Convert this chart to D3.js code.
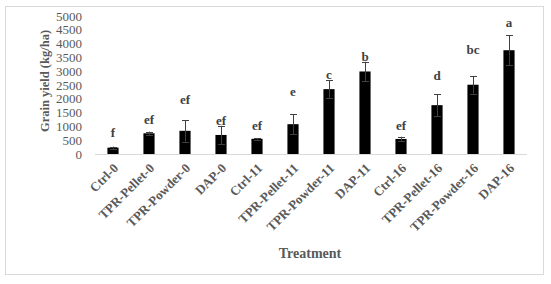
<!DOCTYPE html>
<html>
<head>
<meta charset="utf-8">
<script src="https://cdn.jsdelivr.net/npm/d3@7"></script>
<style>
  body { margin: 0; background: #fff; }
  svg text { font-family: "Liberation Serif", "Times New Roman", serif; }
</style>
</head>
<body>
<div id="chart"></div>
<script>
// data
var treatments = ["Ctrl-0", "TPR-Pellet-0", "TPR-Powder-0", "DAP-0",
  "Ctrl-11", "TPR-Pellet-11", "TPR-Powder-11", "DAP-11",
  "Ctrl-16", "TPR-Pellet-16", "TPR-Powder-16", "DAP-16"];
var yieldMeans = [230, 750, 840, 690, 550, 1080, 2350, 2990, 545, 1770, 2510, 3760];
var yieldErrors = [40, 60, 390, 330, 30, 360, 330, 350, 80, 400, 320, 540];
var letters = ["f", "ef", "ef", "ef", "ef", "e", "c", "b", "ef", "d", "bc", "a"];
var yTicks = [0, 500, 1000, 1500, 2000, 2500, 3000, 3500, 4000, 4500, 5000];

// gap in px between error bar top and letter baseline (as placed in the original)
var letterGap = [9, 7, 15, 0, 7, 17, 0, 0, 6, 13, 21, 7];

var svgWidth = 551;
var svgHeight = 284;

var margin = { top: 16, right: 24, bottom: 130, left: 95 };
var width = 527 - margin.left;
var height = 154 - margin.top;

var svg = d3.select("#chart")
  .append("svg")
  .attr("width", svgWidth)
  .attr("height", svgHeight);

// outer frame
svg.append("rect")
  .attr("x", 5.5)
  .attr("y", 6.5)
  .attr("width", 538)
  .attr("height", 268)
  .attr("fill", "#fff")
  .attr("stroke", "#d9d9d9")
  .attr("stroke-width", 1);

var chartGroup = svg.append("g")
  .attr("transform", `translate(${margin.left}, ${margin.top})`);

var xScale = d3.scaleBand()
  .domain(treatments)
  .range([0, width])
  .paddingInner(0.69)
  .paddingOuter(0.345);

var yScale = d3.scaleLinear()
  .domain([0, 5000])
  .range([height, 0]);

// y axis (labels only)
var leftAxis = d3.axisLeft(yScale)
  .tickValues(yTicks)
  .tickFormat(d3.format("d"))
  .tickSize(0)
  .tickPadding(13);

var yAxis = chartGroup.append("g")
  .call(leftAxis);
yAxis.select(".domain").remove();
yAxis.selectAll("text")
  .attr("font-size", "13px")
  .attr("fill", "#595959")
  .style("font-family", "'Liberation Serif', 'Times New Roman', serif");

// bars
chartGroup.selectAll(".bar")
  .data(treatments)
  .enter()
  .append("rect")
  .attr("class", "bar")
  .attr("x", d => xScale(d))
  .attr("y", (d, i) => yScale(yieldMeans[i]))
  .attr("width", xScale.bandwidth())
  .attr("height", (d, i) => height - yScale(yieldMeans[i]))
  .attr("fill", "#000");

// baseline
chartGroup.append("line")
  .attr("x1", 0)
  .attr("x2", width)
  .attr("y1", height + 0.5)
  .attr("y2", height + 0.5)
  .attr("stroke", "#d9d9d9")
  .attr("stroke-width", 1);

// error bars
var errGroup = chartGroup.selectAll(".err")
  .data(treatments)
  .enter()
  .append("g")
  .attr("class", "err")
  .attr("stroke", "#404040")
  .attr("stroke-width", 1);

errGroup.append("line")
  .attr("x1", d => Math.round(xScale(d) + xScale.bandwidth() / 2) + 0.5)
  .attr("x2", d => Math.round(xScale(d) + xScale.bandwidth() / 2) + 0.5)
  .attr("y1", (d, i) => yScale(yieldMeans[i] - yieldErrors[i]))
  .attr("y2", (d, i) => yScale(yieldMeans[i] + yieldErrors[i]));

[-1, 1].forEach(function(s) {
  errGroup.append("line")
    .attr("x1", d => Math.round(xScale(d) + xScale.bandwidth() / 2) - 3)
    .attr("x2", d => Math.round(xScale(d) + xScale.bandwidth() / 2) + 4)
    .attr("y1", (d, i) => Math.round(yScale(yieldMeans[i] + s * yieldErrors[i])) + 0.5)
    .attr("y2", (d, i) => Math.round(yScale(yieldMeans[i] + s * yieldErrors[i])) + 0.5);
});

// significance letters
chartGroup.selectAll(".letter")
  .data(treatments)
  .enter()
  .append("text")
  .attr("class", "letter")
  .attr("x", d => xScale(d) + xScale.bandwidth() / 2)
  .attr("y", (d, i) => yScale(yieldMeans[i] + yieldErrors[i]) - letterGap[i] - 1)
  .attr("text-anchor", "middle")
  .attr("font-size", "13px")
  .attr("font-weight", "bold")
  .attr("fill", "#404040")
  .text((d, i) => letters[i]);

// category labels, rotated
chartGroup.selectAll(".xlabel")
  .data(treatments)
  .enter()
  .append("text")
  .attr("class", "xlabel")
  .attr("transform", d => `translate(${xScale(d) + xScale.bandwidth() / 2 + 6}, ${height + 15}) rotate(-45)`)
  .attr("text-anchor", "end")
  .attr("font-size", "13px")
  .attr("font-weight", "bold")
  .attr("fill", "#595959")
  .text(d => d);

// axis titles
svg.append("text")
  .attr("transform", "rotate(-90)")
  .attr("x", -81)
  .attr("y", 49)
  .attr("text-anchor", "middle")
  .attr("font-size", "12.5px")
  .attr("font-weight", "bold")
  .attr("fill", "#595959")
  .text("Grain yield  (kg/ha)");

svg.append("text")
  .attr("x", 310)
  .attr("y", 258)
  .attr("text-anchor", "middle")
  .attr("font-size", "14px")
  .attr("font-weight", "bold")
  .attr("fill", "#595959")
  .text("Treatment");
</script>
</body>
</html>
